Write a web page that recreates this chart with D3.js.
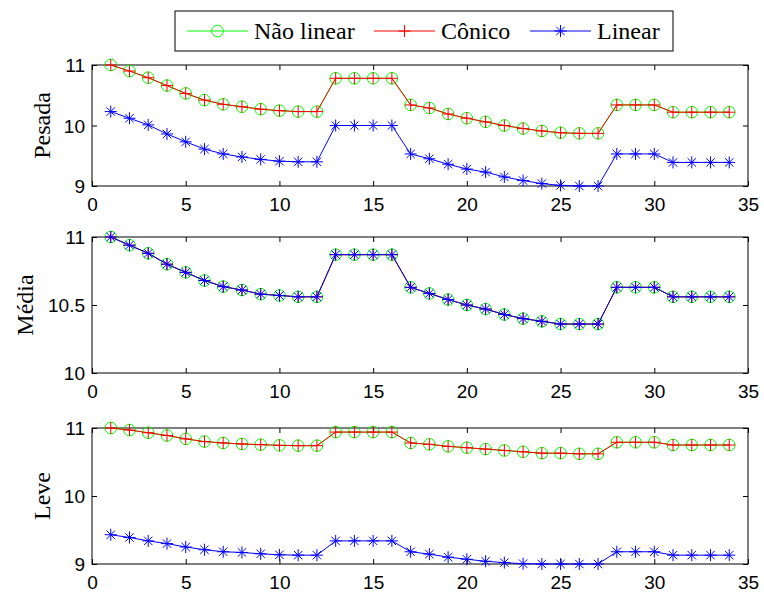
<!DOCTYPE html>
<html>
<head>
<meta charset="utf-8">
<script src="https://cdn.jsdelivr.net/npm/d3@7"></script>
<style>
  html, body { margin: 0; padding: 0; background: #fff; }
  svg { display: block; }
</style>
</head>
<body>
<svg id="chart" width="764" height="595"></svg>
<script>
// Sample index (1..34)
const indices = d3.range(1, 35);

// Panel "Pesada"
const pesadaNaoLinear = [11.00,10.90,10.79,10.66,10.53,10.42,10.35,10.31,10.27,10.245,10.23,10.23,
  10.78,10.78,10.78,10.78,10.34,10.29,10.19,10.12,10.06,10.00,9.95,9.91,9.88,9.87,9.87,
  10.34,10.34,10.34,10.22,10.22,10.22,10.22];
const pesadaConico = [11.00,10.90,10.79,10.66,10.53,10.42,10.35,10.31,10.27,10.245,10.23,10.23,
  10.78,10.78,10.78,10.78,10.34,10.29,10.19,10.12,10.06,10.00,9.95,9.91,9.88,9.87,9.87,
  10.34,10.34,10.34,10.22,10.22,10.22,10.22];
const pesadaLinear = [10.23,10.12,10.01,9.86,9.73,9.61,9.53,9.48,9.44,9.41,9.40,9.40,
  10.00,10.00,10.00,10.00,9.53,9.45,9.36,9.28,9.23,9.15,9.09,9.04,9.01,9.00,9.00,
  9.53,9.53,9.53,9.39,9.39,9.39,9.39];

// Panel "Média"
const mediaNaoLinear = [11.00,10.94,10.88,10.80,10.74,10.68,10.635,10.61,10.58,10.57,10.56,10.56,
  10.87,10.87,10.87,10.87,10.63,10.585,10.54,10.50,10.47,10.43,10.40,10.38,10.36,10.36,10.36,
  10.63,10.63,10.63,10.56,10.56,10.56,10.56];
const mediaConico = [11.00,10.94,10.88,10.80,10.74,10.68,10.635,10.61,10.58,10.57,10.56,10.56,
  10.87,10.87,10.87,10.87,10.63,10.585,10.54,10.50,10.47,10.43,10.40,10.38,10.36,10.36,10.36,
  10.63,10.63,10.63,10.56,10.56,10.56,10.56];
const mediaLinear = [11.00,10.94,10.88,10.80,10.74,10.68,10.635,10.61,10.58,10.57,10.56,10.56,
  10.87,10.87,10.87,10.87,10.63,10.585,10.54,10.50,10.47,10.43,10.40,10.38,10.36,10.36,10.36,
  10.63,10.63,10.63,10.56,10.56,10.56,10.56];

// Panel "Leve"
const leveNaoLinear = [11.00,10.97,10.93,10.89,10.84,10.80,10.78,10.765,10.755,10.745,10.74,10.74,
  10.94,10.94,10.94,10.94,10.78,10.76,10.73,10.71,10.69,10.67,10.65,10.63,10.63,10.62,10.62,
  10.79,10.79,10.79,10.75,10.75,10.75,10.75];
const leveConico = [11.00,10.97,10.93,10.89,10.84,10.80,10.78,10.765,10.755,10.745,10.74,10.74,
  10.94,10.94,10.94,10.94,10.78,10.76,10.73,10.71,10.69,10.67,10.65,10.63,10.63,10.62,10.62,
  10.79,10.79,10.79,10.75,10.75,10.75,10.75];
const leveLinear = [9.43,9.39,9.34,9.30,9.25,9.21,9.18,9.17,9.15,9.135,9.13,9.13,
  9.34,9.34,9.34,9.34,9.18,9.145,9.10,9.07,9.04,9.02,9.005,9.00,9.00,9.00,9.00,
  9.18,9.18,9.18,9.13,9.13,9.13,9.13];

// Axis ticks
const xTicks = [0, 5, 10, 15, 20, 25, 30, 35];
const yTicksPesada = [9, 10, 11];
const yTicksMedia = [10, 10.5, 11];
const yTicksLeve = [9, 10, 11];

const seriesNames = ["Não linear", "Cônico", "Linear"];
const seriesColors = ["#00ff00", "#ff0000", "#0000ff"];
const seriesMarkers = ["circle", "plus", "star"];

const panels = [
  { label: "Pesada", domain: [9, 11], ticks: yTicksPesada, top: 65, bottom: 186, labelX: 50,
    series: [pesadaNaoLinear, pesadaConico, pesadaLinear] },
  { label: "Média", domain: [10, 11], ticks: yTicksMedia, top: 237, bottom: 373, labelX: 33,
    series: [mediaNaoLinear, mediaConico, mediaLinear] },
  { label: "Leve", domain: [9, 11], ticks: yTicksLeve, top: 428, bottom: 564, labelX: 50,
    series: [leveNaoLinear, leveConico, leveLinear] }
];

const SANS = "'Liberation Sans', Arial, sans-serif";
const SERIF = "'Liberation Serif', 'Times New Roman', serif";

const svg = d3.select("#chart");
const left = 92, right = 748;
const x = d3.scaleLinear().domain([0, 35]).range([left, right]);

function drawMarker(g, type, color, cx, cy) {
  if (type === "circle") {
    g.append("circle").attr("cx", cx).attr("cy", cy).attr("r", 5.8)
      .attr("fill", "none").attr("stroke", color).attr("stroke-width", 1);
  } else if (type === "plus") {
    const s = 6;
    g.append("path").attr("d", `M${cx - s},${cy}H${cx + s}M${cx},${cy - s}V${cy + s}`)
      .attr("stroke", color).attr("stroke-width", 1).attr("fill", "none");
  } else {
    const s = 6, d = s * 0.7;
    g.append("path")
      .attr("d", `M${cx - s},${cy}H${cx + s}M${cx},${cy - s}V${cy + s}` +
        `M${cx - d},${cy - d}L${cx + d},${cy + d}M${cx - d},${cy + d}L${cx + d},${cy - d}`)
      .attr("stroke", color).attr("stroke-width", 1).attr("fill", "none");
  }
}

panels.forEach(p => {
  const y = d3.scaleLinear().domain(p.domain).range([p.bottom, p.top]);
  const g = svg.append("g");

  // Box frame
  g.append("rect").attr("x", left).attr("y", p.top)
    .attr("width", right - left).attr("height", p.bottom - p.top)
    .attr("fill", "#fff").attr("stroke", "#000").attr("stroke-width", 1);

  // Bottom axis with inward ticks
  const xAxis = d3.axisBottom(x).tickValues(xTicks).tickSize(-5).tickFormat(d3.format("d"));
  const gx = g.append("g").attr("transform", `translate(0,${p.bottom})`).call(xAxis);
  gx.select(".domain").remove();
  gx.selectAll("text").attr("y", 25).attr("dy", null)
    .style("font-family", SANS).style("font-size", "19px").style("fill", "#000");

  // Top ticks
  const gxt = g.append("g").attr("transform", `translate(0,${p.top})`)
    .call(d3.axisTop(x).tickValues(xTicks).tickSize(-5).tickFormat(""));
  gxt.select(".domain").remove();

  // Left axis
  const yAxis = d3.axisLeft(y).tickValues(p.ticks).tickSize(-5).tickFormat(d3.format("~g"));
  const gy = g.append("g").attr("transform", `translate(${left},0)`).call(yAxis);
  gy.select(".domain").remove();
  gy.selectAll("text").attr("x", -7).attr("dy", "0.36em")
    .style("font-family", SANS).style("font-size", "19px").style("fill", "#000");

  // Right ticks
  const gyr = g.append("g").attr("transform", `translate(${right},0)`)
    .call(d3.axisRight(y).tickValues(p.ticks).tickSize(-5).tickFormat(""));
  gyr.select(".domain").remove();

  // Series lines and markers
  p.series.forEach((vals, si) => {
    const line = d3.line().x((d, i) => x(indices[i])).y(d => y(d));
    g.append("path").datum(vals).attr("d", line)
      .attr("fill", "none").attr("stroke", seriesColors[si]).attr("stroke-width", 1);
    const mg = g.append("g");
    vals.forEach((v, i) => drawMarker(mg, seriesMarkers[si], seriesColors[si], x(indices[i]), y(v)));
  });

  // Y label
  g.append("text")
    .attr("transform", `translate(${p.labelX},${(p.top + p.bottom) / 2}) rotate(-90)`)
    .attr("text-anchor", "middle")
    .style("font-family", SERIF).style("font-size", "24px").style("fill", "#000")
    .text(p.label);
});

// Legend
const lg = svg.append("g");
lg.append("rect").attr("x", 175).attr("y", 11).attr("width", 498).attr("height", 40)
  .attr("fill", "#fff").attr("stroke", "#000").attr("stroke-width", 1);
const legendX = [187, 374, 530];
seriesNames.forEach((name, i) => {
  const lx = legendX[i], ly = 31;
  lg.append("line").attr("x1", lx).attr("x2", lx + 61).attr("y1", ly).attr("y2", ly)
    .attr("stroke", seriesColors[i]).attr("stroke-width", 1);
  drawMarker(lg, seriesMarkers[i], seriesColors[i], lx + 30.5, ly);
  lg.append("text").attr("x", lx + 67).attr("y", ly + 8)
    .style("font-family", SERIF).style("font-size", "24px").style("fill", "#000")
    .text(name);
});
</script>
</body>
</html>
